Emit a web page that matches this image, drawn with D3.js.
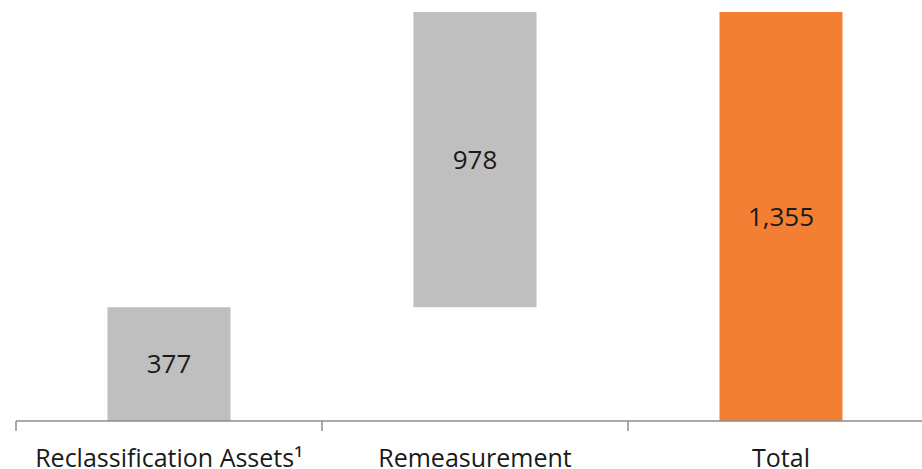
<!DOCTYPE html>
<html lang="en">
<head>
    <meta charset="UTF-8">
    <title>Remeasurement bridge</title>
    <script src="https://d3js.org/d3.v7.min.js"></script>
    <style>
        body { margin: 0; background: #fff; }
        text { font-family: "Open Sans", "Noto Sans", sans-serif; fill: #1a1a1a; }
        .axis path, .axis line { stroke: #8c8c8c; stroke-width: 1.5px; }
    </style>
</head>
<body>
    <svg id="chart" width="922" height="469"></svg>
    <script>
        var categories = ["Reclassification Assets\u00b9", "Remeasurement", "Total"];
        var values = [377, 978, 1355];
        var labels = ["377", "978", "1,355"];
        var isTotal = [false, false, true];

        // running base for the floating bars
        var steps = [];
        var run = 0;
        values.forEach(function(v, i) {
            if (isTotal[i]) {
                steps.push({ cat: categories[i], start: 0, end: v, label: labels[i], total: true });
            } else {
                steps.push({ cat: categories[i], start: run, end: run + v, label: labels[i], total: false });
                run += v;
            }
        });

        var svg = d3.select("#chart");

        var x = d3.scaleBand()
            .domain(categories)
            .range([16, 934])
            .padding(0);

        var y = d3.scaleLinear()
            .domain([0, 1355])
            .range([421, 12]);

        var barW = x.bandwidth() * 0.402;

        svg.selectAll(".bar")
            .data(steps)
            .enter().append("rect")
            .attr("class", "bar")
            .attr("x", d => x(d.cat) + (x.bandwidth() - barW) / 2)
            .attr("width", barW)
            .attr("y", d => y(d.end))
            .attr("height", d => y(d.start) - y(d.end))
            .attr("fill", d => d.total ? "#f37f34" : "#bfbfbf");

        svg.selectAll(".val")
            .data(steps)
            .enter().append("text")
            .attr("class", "val")
            .attr("x", d => x(d.cat) + x.bandwidth() / 2)
            .attr("y", d => (y(d.start) + y(d.end)) / 2)
            .attr("dy", "0.35em")
            .attr("text-anchor", "middle")
            .style("font-size", "26px")
            .text(d => d.label);

        // category axis with ticks on band boundaries
        var axis = svg.append("g").attr("class", "axis");
        axis.append("line")
            .attr("x1", 16).attr("x2", 934)
            .attr("y1", 421).attr("y2", 421);
        var bounds = categories.map(c => x(c)).concat([x.range()[1]]);
        axis.selectAll(".tick")
            .data(bounds)
            .enter().append("line")
            .attr("x1", d => d).attr("x2", d => d)
            .attr("y1", 421).attr("y2", 431);

        svg.selectAll(".cat")
            .data(categories)
            .enter().append("text")
            .attr("class", "cat")
            .attr("x", d => x(d) + x.bandwidth() / 2)
            .attr("y", 467)
            .attr("text-anchor", "middle")
            .style("font-size", "25px")
            .text(d => d);
    </script>
</body>
</html>
